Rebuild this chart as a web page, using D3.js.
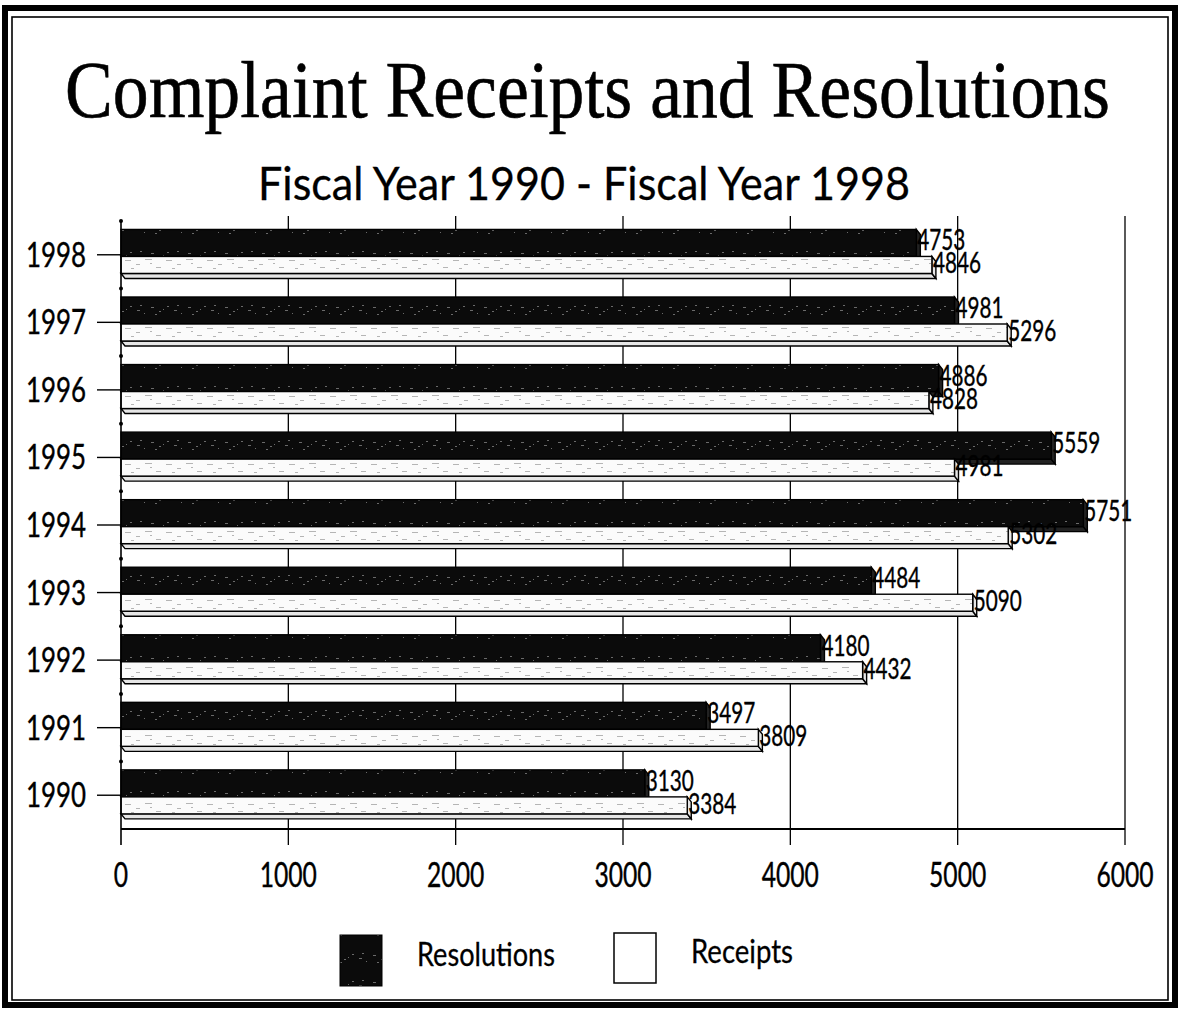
<!DOCTYPE html>
<html><head><meta charset="utf-8">
<script src="https://cdn.jsdelivr.net/npm/d3@7"></script>
<style>body{margin:0;background:#fff}</style>
</head><body>
<svg id="c" width="1186" height="1009"></svg>
<script>
// ---- data ----
const years = ["1998","1997","1996","1995","1994","1993","1992","1991","1990"];
const resolutions = [4753, 4981, 4886, 5559, 5751, 4484, 4180, 3497, 3130];
const receipts    = [4846, 5296, 4828, 4981, 5302, 5090, 4432, 3809, 3384];
const xTicks = [0, 1000, 2000, 3000, 4000, 5000, 6000];
const seriesNames = ["Resolutions", "Receipts"];
const titleText = "Complaint Receipts and Resolutions";
const subtitleText = "Fiscal Year 1990 - Fiscal Year 1998";

const svg = d3.select("#c");
const labelFont = "Lato, 'Open Sans', sans-serif";

// patterns (scan-like texture)
const defs = svg.append("defs");
const pd = defs.append("pattern").attr("id","darkTex").attr("patternUnits","userSpaceOnUse")
  .attr("width",37).attr("height",27);
pd.append("rect").attr("width",37).attr("height",27).attr("fill","#0b0b0b");
[[3,10,3],[11,14,2],[19,9,2],[26,13,3],[33,16,1],[7,17,2],[15,12,1],[29,8,2]].forEach(p=>
  pd.append("rect").attr("x",p[0]).attr("y",p[1]).attr("width",p[2]).attr("height",1).attr("fill","#6a6a6a"));
const pl = defs.append("pattern").attr("id","lightTex").attr("patternUnits","userSpaceOnUse")
  .attr("width",41).attr("height",17);
pl.append("rect").attr("width",41).attr("height",17).attr("fill","#fbfbfb");
[[2,5,6],[13,9,4],[22,4,7],[33,12,5],[8,13,3],[27,8,2]].forEach(p=>
  pl.append("rect").attr("x",p[0]).attr("y",p[1]).attr("width",p[2]).attr("height",1).attr("fill","#b5b5b5"));

// frame
svg.append("rect").attr("x",5).attr("y",8).attr("width",1170).attr("height",997)
  .attr("fill","none").attr("stroke","#000").attr("stroke-width",6);
svg.append("rect").attr("x",12).attr("y",17).attr("width",1156).attr("height",983)
  .attr("fill","none").attr("stroke","#000").attr("stroke-width",1.6);

// titles
svg.append("text").attr("x",65).attr("y",117).attr("font-family","'Liberation Serif', 'Times New Roman', serif")
  .attr("font-size",80).attr("stroke","#000").attr("stroke-width",0.6)
  .attr("textLength",1045).attr("lengthAdjust","spacingAndGlyphs").text(titleText);
svg.append("text").attr("x",258).attr("y",200).attr("font-family",labelFont)
  .attr("font-size",46).attr("stroke","#000").attr("stroke-width",0.3)
  .attr("textLength",652).attr("lengthAdjust","spacingAndGlyphs").text(subtitleText);

// scales
const x = d3.scaleLinear().domain([0, 6000]).range([121, 1125]);
const y = d3.scaleBand().domain(years).range([221, 829]).paddingInner(0.25).paddingOuter(0.125);

// gridlines
svg.append("g").selectAll("line").data(xTicks.slice(1)).join("line")
  .attr("x1",d=>x(d)).attr("x2",d=>x(d)).attr("y1",216).attr("y2",845)
  .attr("stroke","#000").attr("stroke-width",1.3);

const dx = 4, dy = 5;
const darkH = 27, lightH = 17;
function bar(g, x0, x1, y0, h, fill, depthFill){
  const y1 = y0 + h;
  g.append("polygon").attr("points",[[x0,y1],[x1,y1],[x1+dx,y1+dy],[x0+dx,y1+dy]].map(p=>p.join(",")).join(" "))
    .attr("fill",depthFill).attr("stroke","#000").attr("stroke-width",1.4);
  g.append("polygon").attr("points",[[x1,y0],[x1+dx,y0+dy],[x1+dx,y1+dy],[x1,y1]].map(p=>p.join(",")).join(" "))
    .attr("fill",depthFill).attr("stroke","#000").attr("stroke-width",1.4);
  g.append("rect").attr("x",x0).attr("y",y0).attr("width",x1-x0).attr("height",h)
    .attr("fill",fill).attr("stroke","#000").attr("stroke-width",1.4);
}

const bars = svg.append("g");
years.forEach((yr, i) => {
  const top = y(yr);
  bar(bars, x(0), x(resolutions[i]), top, darkH, "url(#darkTex)", "#222");
  bar(bars, x(0), x(receipts[i]), top + darkH, lightH, "url(#lightTex)", "#e6e6e6");
});

// value labels
const vl = svg.append("g").attr("font-family",labelFont).attr("font-size",29).attr("fill","#000")
  .attr("stroke","#000").attr("stroke-width",0.4);
years.forEach((yr, i) => {
  const top = y(yr);
  vl.append("text").attr("x",x(resolutions[i])+1).attr("y",top+darkH-6)
    .attr("textLength",String(resolutions[i]).length*12).attr("lengthAdjust","spacingAndGlyphs").text(resolutions[i]);
  vl.append("text").attr("x",x(receipts[i])+1).attr("y",top+darkH+lightH)
    .attr("textLength",String(receipts[i]).length*12).attr("lengthAdjust","spacingAndGlyphs").text(receipts[i]);
});

// axes lines
svg.append("line").attr("x1",x(0)).attr("x2",x(0)).attr("y1",221).attr("y2",845).attr("stroke","#000").attr("stroke-width",1.6);
svg.append("line").attr("x1",x(0)).attr("x2",x(6000)).attr("y1",829).attr("y2",829).attr("stroke","#000").attr("stroke-width",1.8);

// y ticks and labels
const ya = svg.append("g");
years.forEach(yr => {
  const cy = y(yr) + y.bandwidth()/2;
  ya.append("line").attr("x1",97).attr("x2",x(0)).attr("y1",cy).attr("y2",cy).attr("stroke","#000").attr("stroke-width",1.4);
  ya.append("text").attr("x",86).attr("y",cy+12).attr("text-anchor","end").attr("font-family",labelFont)
    .attr("font-size",34).attr("stroke","#000").attr("stroke-width",0.4)
    .attr("textLength",60).attr("lengthAdjust","spacingAndGlyphs").text(yr);
});
// small dots on y axis at band boundaries
ya.selectAll("circle").data(years).join("circle")
  .attr("cx",x(0)).attr("cy",d=>y(d) - y.step()*y.paddingInner()/2).attr("r",2).attr("fill","#000");

// x tick labels
const xa = svg.append("g");
xTicks.forEach(t => {
  const s = String(t);
  xa.append("text").attr("x",x(t)).attr("y",887).attr("text-anchor","middle").attr("font-family",labelFont)
    .attr("font-size",34).attr("stroke","#000").attr("stroke-width",0.4)
    .attr("textLength",s.length*14.3).attr("lengthAdjust","spacingAndGlyphs").text(s);
});

// legend
const lg = svg.append("g");
lg.append("rect").attr("x",340).attr("y",935).attr("width",42).attr("height",51).attr("fill","url(#darkTex)").attr("stroke","#000");
lg.append("text").attr("x",417).attr("y",966).attr("font-family",labelFont).attr("font-size",32)
  .attr("stroke","#000").attr("stroke-width",0.3)
  .attr("textLength",138).attr("lengthAdjust","spacingAndGlyphs").text(seriesNames[0]);
lg.append("rect").attr("x",614).attr("y",933).attr("width",42).attr("height",50).attr("fill","#fff").attr("stroke","#000").attr("stroke-width",1.5);
lg.append("text").attr("x",691).attr("y",963).attr("font-family",labelFont).attr("font-size",32)
  .attr("stroke","#000").attr("stroke-width",0.3)
  .attr("textLength",102).attr("lengthAdjust","spacingAndGlyphs").text(seriesNames[1]);
</script>
</body></html>
